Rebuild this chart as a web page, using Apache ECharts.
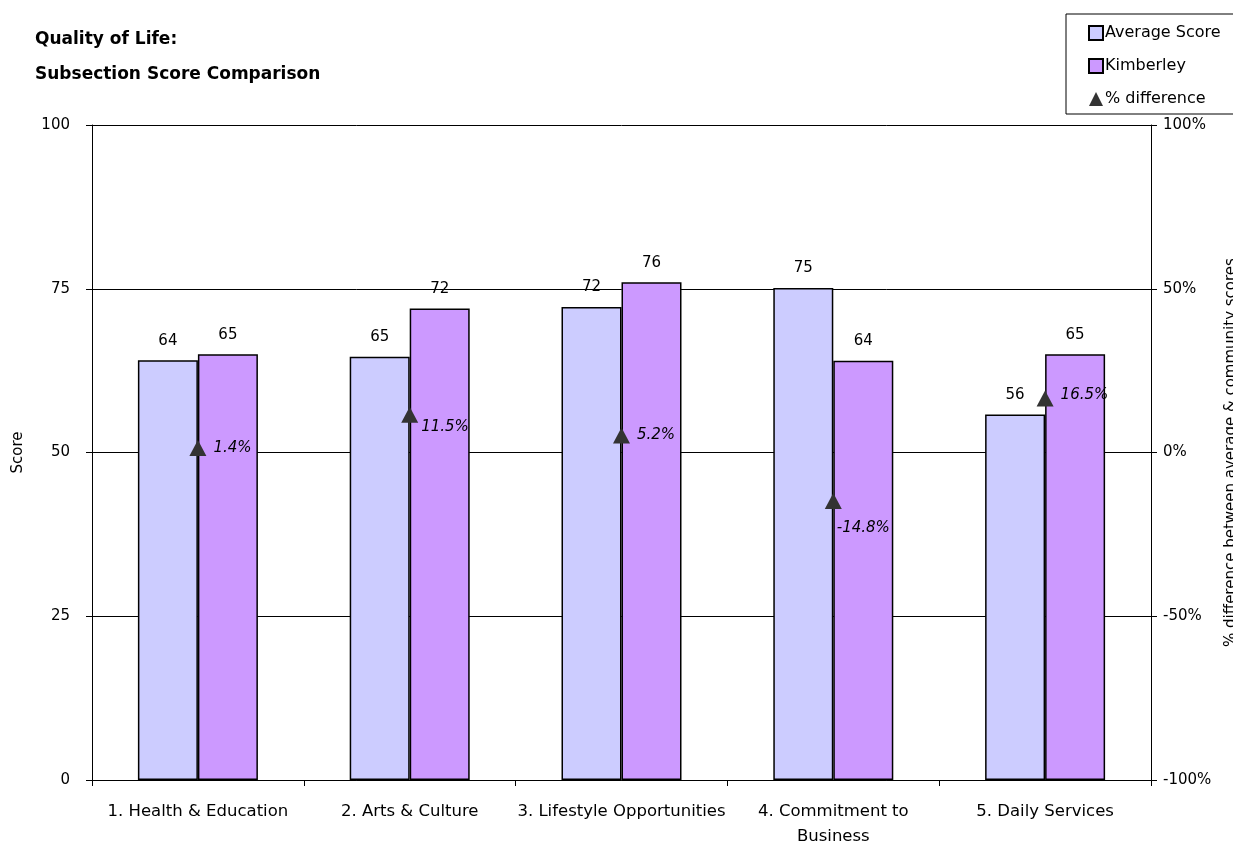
<!DOCTYPE html>
<html><head><meta charset="utf-8">
<script src="https://cdn.jsdelivr.net/npm/echarts@6/dist/echarts.min.js"></script>
<style>html,body{margin:0;padding:0;background:#fff}#c{width:1233px;height:844px}</style>
</head><body><div id="c"></div>
<script>
const categories = ['1. Health & Education','2. Arts & Culture','3. Lifestyle Opportunities','4. Commitment to\nBusiness','5. Daily Services'];
const averageScore = [64.1, 64.6, 72.2, 75.1, 55.8];
const kimberley = [65.0, 72.0, 76.0, 64.0, 65.0];
const pctDifference = [1.4, 11.5, 5.2, -14.8, 16.5];
const scoreTicks = {min: 0, max: 100, interval: 25};
const pctTicks = {min: -100, max: 100, interval: 50};

const FONT = 'DejaVu Sans';
const labelOffsets = [[0,0],[-4,12],[0,0],[-12,27],[0,-3]];
const chart = echarts.init(document.getElementById('c'));
const barLabel = {show: true, position: 'top', distance: 12, color: '#000', fontSize: 15, fontFamily: FONT, formatter: p => Math.round(p.value)};
chart.setOption({
  animation: false,
  textStyle: {fontFamily: FONT},
  title: {text: 'Quality of Life:\nSubsection Score Comparison', left: 30, top: 17,
    textStyle: {fontSize: 17, fontWeight: 'bold', color: '#000', fontFamily: FONT, lineHeight: 35}},
  legend: {orient: 'vertical', left: 1066, top: 14, width: 180, padding: [11, 30, 7, 22], itemGap: 17,
    borderColor: '#000', borderWidth: 1, itemWidth: 14, itemHeight: 14, align: 'left',
    textStyle: {fontSize: 16, color: '#000', fontFamily: FONT, padding: [0,0,0,-3]},
    data: [{name:'Average Score', icon:'rect'}, {name:'Kimberley', icon:'rect'}, {name:'% difference', icon:'triangle'}]},
  grid: {left: 92, right: 82, top: 125, bottom: 64, outerBoundsMode: 'none', containLabel: false},
  xAxis: {type: 'category', data: categories,
    axisLine: {lineStyle: {color: '#000', width: 1}},
    axisTick: {show: true, length: 6, lineStyle: {color: '#000'}},
    axisLabel: {color: '#000', fontSize: 16.5, fontFamily: FONT, margin: 19, lineHeight: 25, interval: 0}},
  yAxis: [
    {type: 'value', min: scoreTicks.min, max: scoreTicks.max, interval: scoreTicks.interval,
     name: 'Score', nameLocation: 'middle', nameGap: 66, nameRotate: 90,
     nameTextStyle: {color: '#000', fontSize: 15, fontFamily: FONT},
     axisLine: {show: true, lineStyle: {color: '#000'}},
     axisTick: {show: true, length: 6, lineStyle: {color: '#000'}},
     axisLabel: {color: '#000', fontSize: 15, fontFamily: FONT, margin: 22},
     splitLine: {show: true, lineStyle: {color: '#000', width: 1}}},
    {type: 'value', min: pctTicks.min, max: pctTicks.max, interval: pctTicks.interval, position: 'right',
     name: '% difference between average & community scores', nameLocation: 'middle', nameGap: 73, nameRotate: 90,
     nameTextStyle: {color: '#000', fontSize: 15, fontFamily: FONT},
     axisLine: {show: true, lineStyle: {color: '#000'}},
     axisTick: {show: true, length: 6, lineStyle: {color: '#000'}},
     axisLabel: {color: '#000', fontSize: 15, fontFamily: FONT, margin: 12, formatter: '{value}%'},
     splitLine: {show: false}}
  ],
  series: [
    {name: 'Average Score', type: 'bar', data: averageScore, barWidth: 60, barGap: '0%',
     itemStyle: {color: '#CCCCFF', borderColor: '#000', borderWidth: 1.5}, label: barLabel},
    {name: 'Kimberley', type: 'bar', data: kimberley, barWidth: 60, barGap: '0%',
     itemStyle: {color: '#CC99FF', borderColor: '#000', borderWidth: 1.5}, label: barLabel},
    {name: '% difference', type: 'scatter', yAxisIndex: 1, symbol: 'triangle', symbolSize: [17, 16], z: 5,
     itemStyle: {color: '#333333', opacity: 1},
     data: pctDifference.map((v, i) => ({value: v, label: {offset: labelOffsets[i]}})),
     label: {show: true, position: 'right', distance: 7, color: '#000', fontSize: 15, fontStyle: 'italic', fontFamily: FONT,
       formatter: p => p.value.toFixed(1) + '%'}}
  ]
});
</script></body></html>
